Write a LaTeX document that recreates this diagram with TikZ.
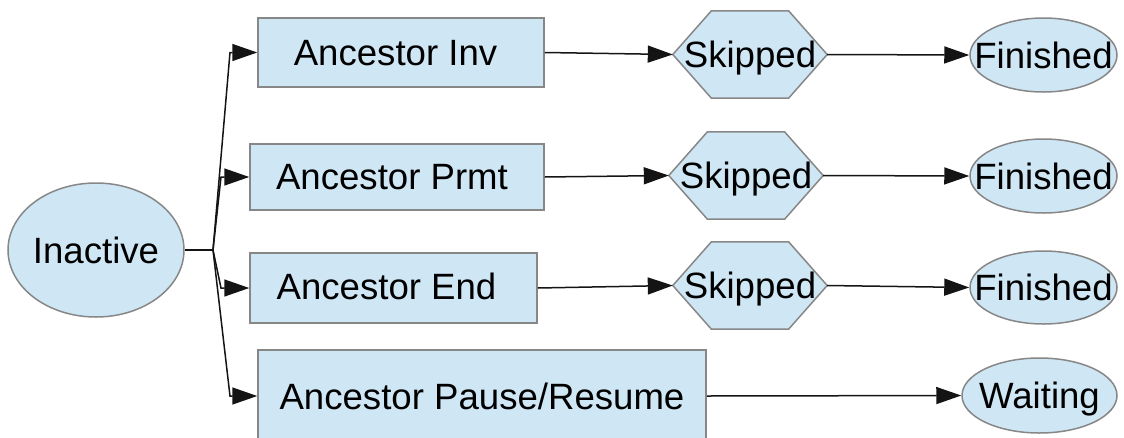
\documentclass[tikz,border=0pt]{standalone}
\usepackage{fontspec}
\setmainfont{Liberation Sans}
\usetikzlibrary{arrows.meta,shapes.geometric,calc}
\definecolor{nodefill}{RGB}{207,230,244}
\definecolor{nodeline}{RGB}{135,135,135}
\definecolor{wire}{RGB}{20,20,20}
\begin{document}
\begin{tikzpicture}[x=1pt,y=-1pt,
  lbl/.style={font=\fontsize{36.6}{44}\selectfont, text height=26.2pt, text depth=0pt, inner sep=0pt},
  shapeframe/.style={draw=nodeline, line width=1.5pt, fill=nodefill},
  boxnode/.style={shapeframe, rectangle, inner sep=0pt},
  ovalnode/.style={shapeframe, ellipse, inner sep=0pt},
  hexnode/.style={rectangle, inner sep=0pt, minimum width=154pt, minimum height=87pt},
  plain/.style={draw=wire, line width=1.5pt},
  conn/.style={plain, -{Triangle[length=25pt,width=17pt]}}]
\useasboundingbox (0,0) rectangle (1124,437);
\clip (0,0) rectangle (1124,437);

% start state
\node[ovalnode, minimum width=176pt, minimum height=134pt] (inact) at (96,250) {};
\node[lbl] (inactt) at (inact) {Inactive};

% ancestor events
\node[boxnode, minimum width=286pt, minimum height=69pt] (b1) at (401,52.5) {};
\node[boxnode, minimum width=294pt, minimum height=66pt] (b2) at (397,177) {};
\node[boxnode, minimum width=287pt, minimum height=70pt] (b3) at (393.5,288) {};
\node[boxnode, minimum width=448pt, minimum height=92pt] (b4) at (482,396) {};
\node[lbl] (b1t) at ($(b1)+(-5.5,-0.5)$) {Ancestor Inv};
\node[lbl] (b2t) at ($(b2)+(-5,-1)$) {Ancestor Prmt};
\node[lbl] (b3t) at ($(b3)+(-7,-1.5)$) {Ancestor End};
\node[lbl] (b4t) at (b4) {Ancestor Pause/Resume};

% skipped states (flattened hexagons)
\node[hexnode] (h1) at (750,54.5) {};
\node[hexnode] (h2) at (746,175.5) {};
\node[hexnode] (h3) at (750,285.5) {};
\foreach \h in {h1,h2,h3}
  \draw[shapeframe] (\h.west)
    -- ($(\h.north west)!0.25!(\h.north east)$)
    -- ($(\h.north west)!0.75!(\h.north east)$)
    -- (\h.east)
    -- ($(\h.south west)!0.75!(\h.south east)$)
    -- ($(\h.south west)!0.25!(\h.south east)$)
    -- cycle;
\foreach \h in {h1,h2,h3}
  \node[lbl] (\h t) at (\h) {Skipped};

% final states
\node[ovalnode, minimum width=147pt, minimum height=74pt] (f1) at (1043.5,55) {};
\node[ovalnode, minimum width=147pt, minimum height=74pt] (f2) at (1043.5,176) {};
\node[ovalnode, minimum width=147pt, minimum height=73pt] (f3) at (1043.5,287.5) {};
\node[ovalnode, minimum width=155pt, minimum height=75pt] (wt) at (1039.5,395.5) {};
\foreach \f in {f1,f2,f3}
  \node[lbl] (\f t) at (\f) {Finished};
\node[lbl] (wtt) at (wt) {Waiting};

% fan-out from the start state
\coordinate (j) at (213,250);
\coordinate (k1) at (230,52.5);
\coordinate (k2) at (221,177);
\coordinate (k3) at (221,288);
\coordinate (k4) at (230,396);
\draw[plain] (inact.east) -- (j);
\foreach \i in {1,...,4}
  \draw[conn] (j) -- (k\i) -- (b\i.west);

% transitions
\draw[conn] (b1.east) -- (h1.west);
\draw[conn] (b2.east) -- (h2.west);
\draw[conn] (b3.east) -- (h3.west);
\draw[conn] (b4.east) -- (wt.west);
\draw[conn] (h1.east) -- (f1.west);
\draw[conn] (h2.east) -- (f2.west);
\draw[conn] (h3.east) -- (f3.west);
\end{tikzpicture}
\end{document}
